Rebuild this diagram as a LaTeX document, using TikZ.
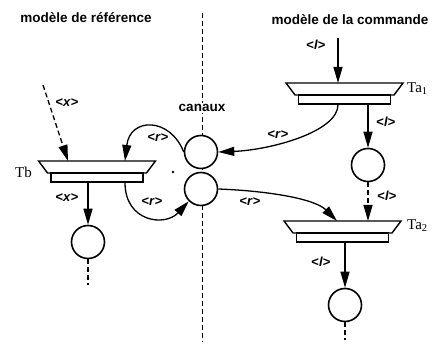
\documentclass[tikz,border=0pt]{standalone}
\usepackage{fontspec}
\setmainfont{Liberation Serif}
\setsansfont{Liberation Sans}
\usetikzlibrary{arrows.meta,calc}

\tikzset{
  place/.style={circle, draw, line width=1.6pt, fill=white, minimum size=33pt, inner sep=0pt},
  bar/.style={rectangle, draw, line width=1.4pt, fill=white, minimum width=92pt, minimum height=9pt, inner sep=0pt},
  arc/.style={line width=1.3pt, -{Triangle[length=16pt,width=9pt]}},
  dasharc/.style={arc, dash pattern=on 5pt off 3pt},
  lab/.style={font=\sffamily\bfseries\fontsize{13}{13}\selectfont, inner sep=0pt},
  title/.style={font=\sffamily\bfseries\fontsize{13.5}{14}\selectfont, inner sep=1pt},
  tname/.style={font=\fontsize{15}{15}\selectfont, inner sep=0pt, anchor=west}
}
\newcommand{\msg}[1]{<\textit{#1}>}
\newcommand{\drawtrans}[3]{%
  \draw[line width=1.4pt, fill=white] (#2-58.5,#3) -- (#2+58.5,#3) -- (#2+49.5,#3-12) -- (#2-49.5,#3-12) -- cycle;
  \node[bar] (#1) at (#2,#3-16.5) {};
  \coordinate (#1top) at (#2,#3);
}

\begin{document}
\begin{tikzpicture}[x=1pt,y=1pt]
\useasboundingbox (0,0) rectangle (441,347);

\node[title] (tref) at (86,329) {modèle de référence};
\node[title] (tcom) at (350,327) {modèle de la commande};

\draw[line width=1pt, dash pattern=on 5pt off 3pt] (202,334) -- (202,5);
\node[lab, fill=white, inner sep=1pt, font=\sffamily\bfseries\fontsize{13.5}{14}\selectfont] (canaux) at (202,239) {canaux};

% places
\node[place] (c1) at (201,195) {};
\node[place] (c2) at (201,158) {};
\node[place] (pa1) at (368,182) {};
\node[place] (pa2) at (345,42) {};
\node[place] (pb) at (88,105) {};
\fill (173,175) circle (1.3);

% transitions
\drawtrans{ta1}{344.5}{264}
\drawtrans{ta2}{342.5}{126}
\drawtrans{tb}{97}{186}
\node[tname] (nta1) at (407,258) {Ta\textsubscript{1}};
\node[tname] (nta2) at (407,121) {Ta\textsubscript{2}};
\node[tname] (ntb) at (15,175) {Tb};

\coordinate (ta1src) at (338,309);
\coordinate (tbsrc) at (43,262);
\coordinate (pa2end) at (345,7);
\coordinate (pbend) at (88,62);

% commande
\draw[arc] (ta1src) -- ([xshift=-6.5pt]ta1top);
\draw[arc] ([xshift=23.5pt]ta1.south) -- (pa1.north);
\draw[arc] ([xshift=-6.5pt]ta1.south) .. controls (338,215) and (270,197) .. (c1.east);
\draw[dasharc] (pa1.south) -- ([xshift=25.5pt]ta2top);
\draw[arc] (c2.east) .. controls (270,156) and (315,148) .. ([xshift=-5.5pt]ta2top);
\draw[arc] ([xshift=2.5pt]ta2.south) -- (pa2.north);
\draw[line width=1.3pt, dash pattern=on 5pt off 3pt] (pa2.south) -- (pa2end);

% reference
\draw[dasharc] (tbsrc) -- ([xshift=-29pt]tbtop);
\draw[arc] (c1.west) .. controls (170,230) and (130,230) .. ([xshift=28pt]tbtop);
\draw[arc] ([xshift=28pt]tb.south) .. controls (125,125) and (165,120) .. (c2.south west);
\draw[arc] ([xshift=-9pt]tb.south) -- (pb.north);
\draw[line width=1.3pt, dash pattern=on 5pt off 3pt] (pb.south) -- (pbend);

% labels
\node[lab] (l1) at (316,302) {\msg{l}};
\node[lab] (l2) at (386,225) {\msg{l}};
\node[lab] (l3) at (387,151) {\msg{l}};
\node[lab] (l4) at (321,85) {\msg{l}};
\node[lab] (r1) at (278,212) {\msg{r}};
\node[lab] (r2) at (158,209) {\msg{r}};
\node[lab] (r3) at (152,145) {\msg{r}};
\node[lab] (r4) at (250,145) {\msg{r}};
\node[lab] (x1) at (67,244) {\msg{x}};
\node[lab] (x2) at (67,149) {\msg{x}};
\end{tikzpicture}
\end{document}
